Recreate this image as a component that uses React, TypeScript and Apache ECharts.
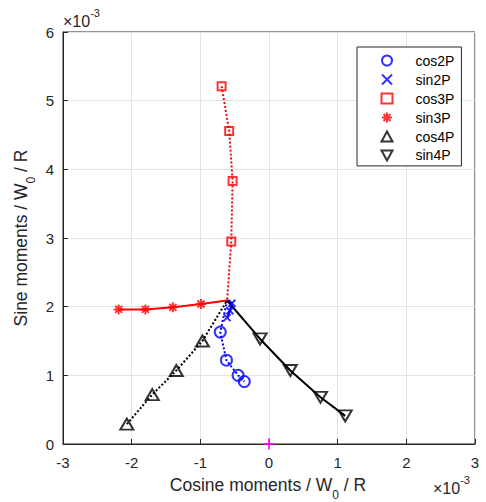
import React, { useEffect, useRef } from "react";
import * as echarts from "echarts";

// All moments are in units of 1e-3 (the axes carry a ×10^-3 multiplier).
const hub: [number, number] = [-0.61, 2.09];

const cos2P: [number, number][] = [
  [-0.71, 1.63],
  [-0.62, 1.22],
  [-0.45, 1.0],
  [-0.36, 0.91],
];
const sin2P: [number, number][] = [
  [-0.54, 2.05],
  [-0.57, 1.94],
  [-0.61, 1.84],
];
const cos3P: [number, number][] = [
  [-0.69, 5.21],
  [-0.58, 4.56],
  [-0.53, 3.83],
  [-0.55, 2.95],
];
const sin3P: [number, number][] = [
  [-2.19, 1.96],
  [-1.8, 1.96],
  [-1.4, 1.99],
  [-0.99, 2.04],
];
const cos4P: [number, number][] = [
  [-2.07, 0.29],
  [-1.7, 0.72],
  [-1.35, 1.07],
  [-0.97, 1.5],
];
const sin4P: [number, number][] = [
  [-0.13, 1.53],
  [0.31, 1.07],
  [0.75, 0.68],
  [1.11, 0.41],
];
const origin: [number, number][] = [[0, 0]];

const xTicks = [-3, -2, -1, 0, 1, 2, 3];
const yTicks = [0, 1, 2, 3, 4, 5, 6];

const BLUE = "#0000ff";
const RED = "#ff0000";
const BLACK = "#000000";
const MAGENTA = "#ff00ff";
const INK = "#262626";
const FONT = "Liberation Sans, Arial, sans-serif";
const TITLE_SIZE = 17.5;
const SUB_SIZE = 12;

const X_SYM = "path://M0,0L10,10M10,0L0,10";
const STAR_SYM = "path://M5,0L5,10M0,5L10,5M1.5,1.5L8.5,8.5M8.5,1.5L1.5,8.5";
const TRI_DOWN = "path://M0,0L10,0L5,9Z";
const PLUS_SYM = "path://M5,0L5,10M0,5L10,5";

interface Spec {
  name: string;
  pts: [number, number][];
  color: string;
  dotted: boolean;
  fromHub: boolean;
  symbol: string;
  size: number | [number, number];
}

const specs: Spec[] = [
  { name: "cos2P", pts: cos2P, color: BLUE, dotted: true, fromHub: true, symbol: "circle", size: 11 },
  { name: "sin2P", pts: sin2P, color: BLUE, dotted: false, fromHub: true, symbol: X_SYM, size: 7 },
  { name: "cos3P", pts: cos3P, color: RED, dotted: true, fromHub: false, symbol: "rect", size: 8 },
  { name: "sin3P", pts: sin3P, color: RED, dotted: false, fromHub: false, symbol: STAR_SYM, size: 10 },
  { name: "cos4P", pts: cos4P, color: BLACK, dotted: true, fromHub: false, symbol: "triangle", size: [13, 11] },
  { name: "sin4P", pts: sin4P, color: BLACK, dotted: false, fromHub: true, symbol: TRI_DOWN, size: [13, 11] },
];

const multiplierRich = {
  a: { fontSize: 16, fontFamily: FONT, lineHeight: 22, verticalAlign: "bottom", fill: INK },
  b: { fontSize: 11, fontFamily: FONT, lineHeight: 11, verticalAlign: "top", padding: [0, 0, 11, 0], fill: INK },
};

function measure(text: string, size: number): number {
  const ctx = document.createElement("canvas").getContext("2d");
  if (!ctx) return text.length * size * 0.55;
  ctx.font = `${size}px ${FONT}`;
  return ctx.measureText(text).width;
}

// Axis title "<head>W₀ / R": main text, a lowered subscript 0, then the tail.
function subscriptTitle(head: string, subDrop: number) {
  const tail = " / R";
  const w1 = measure(head, TITLE_SIZE);
  const w2 = measure("0", SUB_SIZE);
  const w3 = measure(tail, TITLE_SIZE);
  const x0 = -(w1 + w2 + w3) / 2;
  const base = { fill: INK, fontFamily: FONT, verticalAlign: "middle" as const, align: "left" as const };
  return [
    { type: "text", x: x0, y: 0, style: { ...base, text: head, fontSize: TITLE_SIZE } },
    { type: "text", x: x0 + w1, y: subDrop, style: { ...base, text: "0", fontSize: SUB_SIZE } },
    { type: "text", x: x0 + w1 + w2, y: 0, style: { ...base, text: tail, fontSize: TITLE_SIZE } },
  ];
}

export default function App() {
  const ref = useRef<HTMLDivElement>(null);

  useEffect(() => {
    if (!ref.current) return;
    const chart = echarts.init(ref.current, undefined, { renderer: "svg" });

    const lineSeries = specs.map((s) => ({
      type: "line" as const,
      name: s.name + "-path",
      data: s.fromHub ? [hub, ...s.pts] : [...s.pts, hub],
      symbol: "none",
      lineStyle: {
        color: s.color,
        width: 2,
        type: s.dotted ? [2, 2] : "solid",
      },
      z: 2,
    }));

    const markerSeries = specs.map((s) => ({
      type: "scatter" as const,
      name: s.name,
      data: s.pts,
      symbol: s.symbol,
      symbolSize: s.size,
      itemStyle: {
        color: "none",
        borderColor: s.color,
        borderWidth: 2,
      },
      z: 3,
    }));

    const axisText = { color: INK, fontSize: 15, fontFamily: FONT };
    const axisCommon = {
      type: "value" as const,
      interval: 1,
      axisLine: { show: true, onZero: false, lineStyle: { color: INK, width: 1 } },
      axisTick: { show: true, inside: true, length: 5, lineStyle: { color: INK } },
      splitLine: { show: true, lineStyle: { color: "#e3e3e3", width: 1 } },
    };

    chart.setOption({
      animation: false,
      backgroundColor: "#ffffff",
      textStyle: { fontFamily: FONT },
      grid: {
        left: 63,
        right: 11,
        top: 32,
        bottom: 58,
        show: true,
        borderColor: INK,
        borderWidth: 1,
      },
      xAxis: {
        ...axisCommon,
        min: xTicks[0],
        max: xTicks[xTicks.length - 1],
        axisLabel: { ...axisText, margin: 11 },
      },
      yAxis: {
        ...axisCommon,
        min: yTicks[0],
        max: yTicks[yTicks.length - 1],
        axisLabel: { ...axisText, margin: 9 },
      },
      legend: {
        data: specs.map((s) => s.name),
        orient: "vertical",
        left: 357,
        top: 47,
        itemWidth: 11,
        itemHeight: 10,
        itemGap: 4,
        padding: [6, 7, 3, 22],
        backgroundColor: "#ffffff",
        borderColor: INK,
        borderWidth: 1,
        borderRadius: 0,
        itemStyle: { borderWidth: 2 },
        textStyle: { color: "#000000", fontSize: 14, lineHeight: 14, fontFamily: FONT, padding: [0, 0, 0, 18] },
      },
      series: [
        ...lineSeries,
        ...markerSeries,
        {
          type: "scatter",
          name: "origin",
          data: origin,
          symbol: PLUS_SYM,
          symbolSize: 11,
          itemStyle: { color: "none", borderColor: MAGENTA, borderWidth: 2 },
          z: 4,
        },
      ],
      graphic: [
        {
          type: "text",
          left: 63,
          top: 7,
          style: { text: "{a|×10}{b|-3}", fill: INK, rich: multiplierRich },
        },
        {
          type: "text",
          left: 433,
          top: 474,
          style: { text: "{a|×10}{b|-3}", fill: INK, rich: multiplierRich },
        },
        {
          type: "group",
          x: 268,
          y: 484.5,
          children: subscriptTitle("Cosine moments / W", 10),
        },
        {
          type: "group",
          x: 21,
          y: 238,
          rotation: Math.PI / 2,
          children: subscriptTitle("Sine moments / W", 10),
        },
      ],
    });

    return () => chart.dispose();
  }, []);

  return <div ref={ref} style={{ width: 486, height: 502, position: "absolute", left: 0, top: 0 }} />;
}
